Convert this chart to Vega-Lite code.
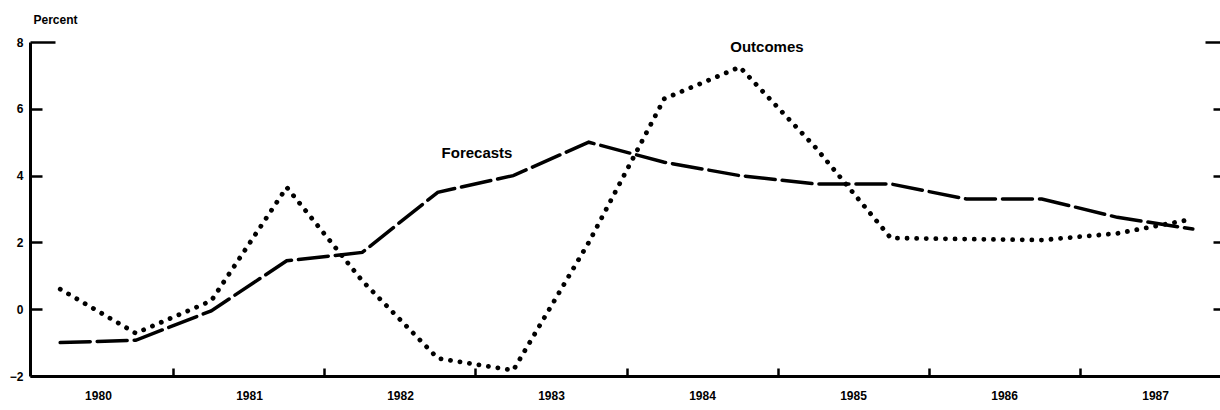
{
  "$schema": "https://vega.github.io/schema/vega-lite/v6.json",
  "autosize": {"type": "none"},
  "padding": {"left": 30, "top": 42, "right": 0, "bottom": 34},
  "width": 1190,
  "height": 334,
  "background": "white",
  "config": {
    "view": {"stroke": null},
    "font": "Liberation Sans",
    "axis": {"grid": false, "domainColor": "black", "tickColor": "black", "labelColor": "black", "titleColor": "black", "labelFont": "Liberation Sans", "labelFontWeight": "bold"}
  },
  "datasets": {
    "series": [
      {"t": 1980.25, "s": "Forecasts", "v": -1.0},
      {"t": 1980.75, "s": "Forecasts", "v": -0.93},
      {"t": 1981.25, "s": "Forecasts", "v": -0.05},
      {"t": 1981.75, "s": "Forecasts", "v": 1.45},
      {"t": 1982.25, "s": "Forecasts", "v": 1.7},
      {"t": 1982.75, "s": "Forecasts", "v": 3.5},
      {"t": 1983.25, "s": "Forecasts", "v": 4.0},
      {"t": 1983.75, "s": "Forecasts", "v": 5.0},
      {"t": 1984.25, "s": "Forecasts", "v": 4.4},
      {"t": 1984.75, "s": "Forecasts", "v": 4.0},
      {"t": 1985.25, "s": "Forecasts", "v": 3.75},
      {"t": 1985.75, "s": "Forecasts", "v": 3.75},
      {"t": 1986.25, "s": "Forecasts", "v": 3.3},
      {"t": 1986.75, "s": "Forecasts", "v": 3.3},
      {"t": 1987.25, "s": "Forecasts", "v": 2.75},
      {"t": 1987.75, "s": "Forecasts", "v": 2.4},
      {"t": 1980.25, "s": "Outcomes", "v": 0.6},
      {"t": 1980.75, "s": "Outcomes", "v": -0.72},
      {"t": 1981.25, "s": "Outcomes", "v": 0.25},
      {"t": 1981.75, "s": "Outcomes", "v": 3.65},
      {"t": 1982.25, "s": "Outcomes", "v": 0.85},
      {"t": 1982.75, "s": "Outcomes", "v": -1.47},
      {"t": 1983.25, "s": "Outcomes", "v": -1.83},
      {"t": 1983.75, "s": "Outcomes", "v": 2.0},
      {"t": 1984.25, "s": "Outcomes", "v": 6.3},
      {"t": 1984.75, "s": "Outcomes", "v": 7.25},
      {"t": 1985.25, "s": "Outcomes", "v": 4.85},
      {"t": 1985.75, "s": "Outcomes", "v": 2.13},
      {"t": 1986.25, "s": "Outcomes", "v": 2.1},
      {"t": 1986.75, "s": "Outcomes", "v": 2.07},
      {"t": 1987.25, "s": "Outcomes", "v": 2.27},
      {"t": 1987.75, "s": "Outcomes", "v": 2.7}
    ],
    "notes": [
      {"t": 1983.01, "v": 4.67, "label": "Forecasts"},
      {"t": 1984.93, "v": 7.84, "label": "Outcomes"}
    ]
  },
  "layer": [
    {
      "data": {"name": "series"},
      "mark": {"type": "line", "color": "black", "strokeCap": "round"},
      "encoding": {
        "x": {
          "field": "t", "type": "quantitative",
          "scale": {"domain": [1980.05, 1987.93], "nice": false, "zero": false},
          "axis": {
            "orient": "bottom", "title": null,
            "values": [1980.5, 1981.5, 1982.5, 1983.5, 1984.5, 1985.5, 1986.5, 1987.5],
            "labelExpr": "floor(datum.value)",
            "ticks": false, "labelPadding": 14, "labelFontSize": 12,
            "domainWidth": 3
          }
        },
        "y": {
          "field": "v", "type": "quantitative",
          "scale": {"domain": [-2, 8], "nice": false, "zero": false},
          "axis": {
            "orient": "left",
            "values": [-2, 0, 2, 4, 6, 8],
            "title": "Percent", "titleAngle": 0, "titleAlign": "left", "titleBaseline": "alphabetic",
            "titleX": 3, "titleY": -19, "titleFontSize": 12, "titleFontWeight": "bold", "titleFont": "Liberation Sans",
            "tickSize": {"condition": {"test": "datum.value == 8", "value": -25}, "value": -12},
            "labelPadding": {"condition": {"test": "datum.value == 8", "value": 32}, "value": 19},
            "tickWidth": 2.5, "labelFontSize": 12,
            "domainWidth": 3
          }
        },
        "detail": {"field": "s"},
        "strokeDash": {
          "field": "s", "type": "nominal",
          "scale": {"domain": ["Forecasts", "Outcomes"], "range": [[30, 7], [0.1, 9.5]]},
          "legend": null
        },
        "strokeWidth": {
          "field": "s", "type": "nominal",
          "scale": {"domain": ["Forecasts", "Outcomes"], "range": [3.5, 4.8]},
          "legend": null
        }
      }
    },
    {
      "data": {"name": "notes"},
      "mark": {"type": "text", "color": "black", "fontSize": 15, "fontWeight": "bold", "font": "Liberation Sans", "align": "center", "baseline": "middle"},
      "encoding": {
        "x": {
          "field": "t", "type": "quantitative",
          "scale": {"domain": [1980.05, 1987.93], "nice": false, "zero": false},
          "axis": {
            "orient": "bottom", "title": null,
            "values": [1981, 1982, 1983, 1984, 1985, 1986, 1987],
            "labels": false, "domain": false,
            "tickSize": -8, "tickWidth": 2.5
          }
        },
        "y": {
          "field": "v", "type": "quantitative",
          "scale": {"domain": [-2, 8], "nice": false, "zero": false},
          "axis": {
            "orient": "right", "title": null,
            "values": [-2, 0, 2, 4, 6, 8],
            "labels": false, "domain": false,
            "tickSize": {"condition": {"test": "datum.value == 8", "value": -15}, "value": -7},
            "tickWidth": 2.5
          }
        },
        "text": {"field": "label"}
      }
    }
  ],
  "resolve": {"axis": {"x": "independent", "y": "independent"}}
}
